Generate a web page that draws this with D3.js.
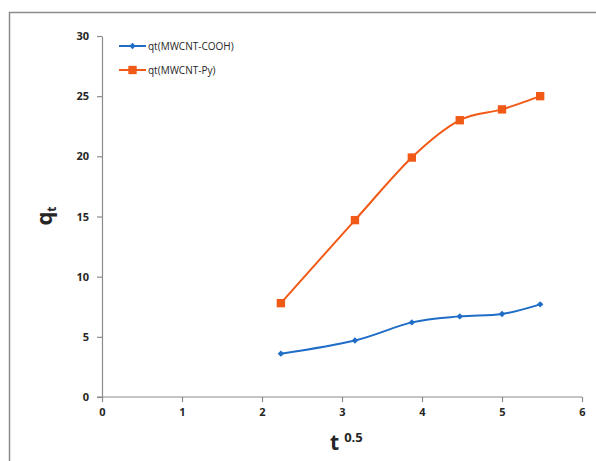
<!DOCTYPE html>
<html>
<head>
<meta charset="utf-8">
<script src="https://cdn.jsdelivr.net/npm/d3@7"></script>
<style>
  body { margin: 0; background: #fff; }
  svg text { font-family: "Open Sans", "Liberation Sans", sans-serif; fill: #262626; }
</style>
</head>
<body>
<div id="chart"></div>
<script>
'use strict';
// t^0.5 values (sqrt of 5,10,...,30 min)
var tSqrt = [2.236, 3.162, 3.873, 4.472, 5.0, 5.477];
var qtCooh = [3.6, 4.7, 6.2, 6.7, 6.9, 7.7];
var qtPy = [7.8, 14.7, 19.9, 23.0, 23.9, 25.0];
var xTicks = [0, 1, 2, 3, 4, 5, 6];
var yTicks = [0, 5, 10, 15, 20, 25, 30];
var seriesNames = ['qt(MWCNT-COOH)', 'qt(MWCNT-Py)'];

var width = 596, height = 461;
var svg = d3.select('#chart').append('svg')
    .attr('width', width)
    .attr('height', height);

// outer frame (runs off the right and bottom edge)
svg.append('rect')
    .attr('x', 9.5).attr('y', 12.5)
    .attr('width', 620).attr('height', 480)
    .attr('fill', 'none')
    .attr('stroke', '#8c8c8c')
    .attr('stroke-width', 1.5);

var x = d3.scaleLinear().domain([0, 6]).range([102, 582]);
var y = d3.scaleLinear().domain([0, 30]).range([397, 36]);

var xAxis = svg.append('g')
    .attr('transform', 'translate(0,' + y(0) + ')')
    .call(d3.axisBottom(x).tickValues(xTicks).tickFormat(d3.format('d'))
      .tickSize(5).tickSizeOuter(0).tickPadding(6));
var yAxis = svg.append('g')
    .attr('transform', 'translate(' + x(0) + ',0)')
    .call(d3.axisLeft(y).tickValues(yTicks).tickFormat(d3.format('d'))
      .tickSize(5).tickSizeOuter(0).tickPadding(8));

[xAxis, yAxis].forEach(function(a) {
  a.select('.domain').attr('stroke', '#8c8c8c').attr('stroke-width', 1.2);
  a.selectAll('.tick line').attr('stroke', '#8c8c8c').attr('stroke-width', 1.2);
  a.selectAll('.tick text')
      .attr('font-size', 11)
      .attr('font-weight', 'bold')
      .attr('font-family', '"Open Sans", "Liberation Sans", sans-serif')
      .attr('fill', '#262626');
});
// x axis line starts at the y axis tick (slight overhang left)
xAxis.select('.domain').attr('d', 'M' + (x(0) - 5) + ',0H' + x(6));

// axis titles
var xt = svg.append('text')
    .attr('x', 330).attr('y', 450)
    .attr('font-weight', 'bold');
xt.append('tspan').attr('font-size', 21).text('t');
xt.append('tspan').attr('font-size', 13).attr('dx', 5).attr('dy', -8).text('0.5');

var yt = svg.append('text')
    .attr('transform', 'translate(52,216) rotate(-90)')
    .attr('text-anchor', 'middle')
    .attr('font-weight', 'bold');
yt.append('tspan').attr('font-size', 22).text('q');
yt.append('tspan').attr('font-size', 12).attr('dy', 4).text('t');

var line = d3.line()
    .curve(d3.curveCardinal.tension(0))
    .x(function(d) { return x(d[0]); })
    .y(function(d) { return y(d[1]); });

var blue = '#1f6dc6', orange = '#f15a16';
var series = [
  { name: seriesNames[0], values: qtCooh, color: blue, shape: d3.symbolDiamond2, size: 26 },
  { name: seriesNames[1], values: qtPy, color: orange, shape: d3.symbolSquare, size: 70 }
];

series.forEach(function(s) {
  var pts = d3.zip(tSqrt, s.values);
  svg.append('path')
      .datum(pts)
      .attr('d', line)
      .attr('fill', 'none')
      .attr('stroke', s.color)
      .attr('stroke-width', 2);
  svg.selectAll(null)
      .data(pts)
      .enter().append('path')
      .attr('d', d3.symbol().type(s.shape).size(s.size))
      .attr('transform', function(d) { return 'translate(' + x(d[0]) + ',' + y(d[1]) + ')'; })
      .attr('fill', s.color);
});

// legend
var legend = svg.append('g');
series.forEach(function(s, i) {
  var ly = 46 + i * 24;
  legend.append('line')
      .attr('x1', 119).attr('x2', 146)
      .attr('y1', ly).attr('y2', ly)
      .attr('stroke', s.color).attr('stroke-width', 2);
  legend.append('path')
      .attr('d', d3.symbol().type(s.shape).size(s.size))
      .attr('transform', 'translate(132.5,' + ly + ')')
      .attr('fill', s.color);
  legend.append('text')
      .attr('x', 148).attr('y', ly + 3.5)
      .attr('font-size', 10)
      .text(s.name);
});
</script>
</body>
</html>
